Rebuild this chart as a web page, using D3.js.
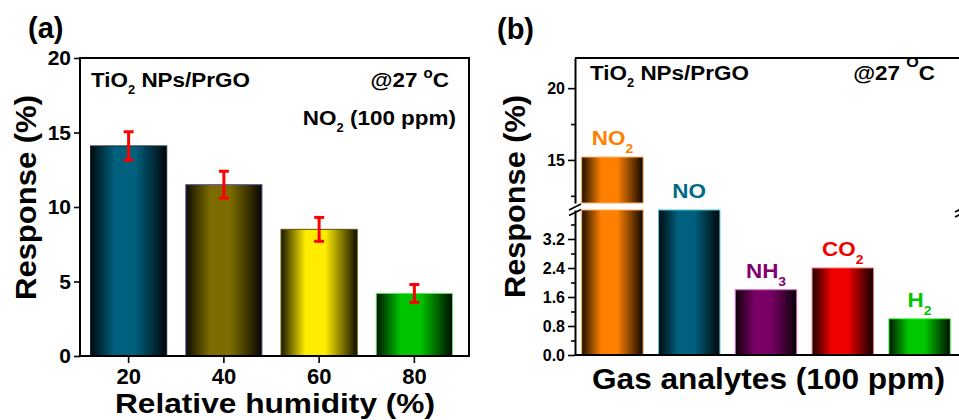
<!DOCTYPE html>
<html>
<head>
<meta charset="utf-8">
<script src="https://cdn.jsdelivr.net/npm/d3@7"></script>
<style>
  body { margin: 0; background: #fff; }
  text { font-family: "Liberation Sans", Arial, sans-serif; font-weight: bold; }
</style>
</head>
<body>
<svg id="chart" width="959" height="420"></svg>
<script>
// ---- panel (a): response vs relative humidity ----
const humidityLevels = ["20", "40", "60", "80"];
const humidityResponse = [14.1, 11.5, 8.5, 4.2];
const humidityError = [0.95, 0.9, 0.8, 0.6];
const humidityYTicks = [0, 5, 10, 15, 20];

// ---- panel (b): response to different gases (broken axis) ----
const gases = ["NO2", "NO", "NH3", "CO2", "H2"];
const gasLabels = [
  [{ t: "NO" }, { t: "2", sub: true }],
  [{ t: "NO" }],
  [{ t: "NH" }, { t: "3", sub: true }],
  [{ t: "CO" }, { t: "2", sub: true }],
  [{ t: "H" }, { t: "2", sub: true }]
];
const gasResponse = [15.2, 4.0, 1.8, 2.4, 1.0];
const lowTicks = [0, 0.8, 1.6, 2.4, 3.2];
const lowMinorTicks = [0.4, 1.2, 2.0, 2.8, 3.6];
const highTicks = [15, 20];
const highMinorTicks = [12.5, 17.5];

// colours
const humidityColors = ["#00617f", "#7d6c00", "#ffec00", "#00c400"];
const humidityEdges = ["#1a2a30", "#5555aa", "#5a5200", "#66dd66"];
const gasColors = ["#ff8000", "#00607e", "#7a0066", "#f00000", "#00c800"];
const gasEdges = ["#ffa850", "#40c8e0", "#d070d0", "#ff7070", "#50ff50"];
const gasTextColors = ["#ff8000", "#006a84", "#800070", "#f00000", "#00c800"];

const svg = d3.select("#chart");
const defs = svg.append("defs");
const FONT = '"Liberation Sans", Arial, sans-serif';
const SX = 1.07; // horizontal stretch of annotation text

function barGradient(id, color) {
  const g = defs.append("linearGradient").attr("id", id)
    .attr("x1", 0).attr("x2", 1).attr("y1", 0).attr("y2", 0);
  const mix = k => d3.interpolateRgb("#000000", color)(k);
  [[0, mix(0.1)], [0.12, mix(0.45)], [0.32, mix(1)], [0.58, mix(1)], [0.85, mix(0.4)], [1, mix(0.06)]]
    .forEach(([o, c]) => g.append("stop").attr("offset", o).attr("stop-color", c));
}

// text with sub/superscript parts
function richText(parent, x, y, parts, o) {
  const g = parent.append("g").attr("transform", `translate(${x},${y}) scale(${o.sx || 1},1)`);
  const t = g.append("text").attr("x", 0).attr("y", 0)
    .attr("font-size", o.size).attr("fill", o.fill || "#000")
    .attr("text-anchor", o.anchor || "start");
  let shift = 0;
  parts.forEach(p => {
    const s = p.sub ? (o.subDy || 7) : p.sup ? (o.supDy || -9) : 0;
    const ts = t.append("tspan").text(p.t).attr("dy", s - shift);
    if (p.sub || p.sup) ts.attr("font-size", p.size || o.subSize || 12);
    shift = s;
  });
  return t;
}

function styleAxis(g, size) {
  g.attr("font-family", FONT).attr("font-size", size).attr("font-weight", "bold");
  g.selectAll("text").attr("fill", "#000");
  g.selectAll(".tick line").attr("stroke", "#000").attr("stroke-width", 1.6);
}

// ================= panel (a) =================
const A = { left: 80, right: 469, top: 58, bottom: 356 };
const gA = svg.append("g");
const xA = d3.scaleBand().domain(humidityLevels).range([81, 462]).paddingInner(0.2).paddingOuter(0.1);
const yA = d3.scaleLinear().domain([0, 20]).range([A.bottom, A.top]);

humidityColors.forEach((c, i) => barGradient(`gradA${i}`, c));

gA.selectAll("rect.bar").data(humidityResponse).join("rect")
  .attr("class", "bar")
  .attr("x", (d, i) => xA(humidityLevels[i]))
  .attr("y", d => yA(d))
  .attr("width", xA.bandwidth())
  .attr("height", d => A.bottom - yA(d))
  .attr("fill", (d, i) => `url(#gradA${i})`)
  .attr("stroke", (d, i) => humidityEdges[i])
  .attr("stroke-width", 1);

// error bars
const errG = gA.append("g").attr("stroke", "#ff0000").attr("stroke-width", 3);
humidityResponse.forEach((v, i) => {
  const cx = xA(humidityLevels[i]) + xA.bandwidth() / 2;
  const y1 = yA(v + humidityError[i]), y2 = yA(v - humidityError[i]);
  errG.append("line").attr("x1", cx).attr("x2", cx).attr("y1", y1).attr("y2", y2);
  errG.append("line").attr("x1", cx - 5).attr("x2", cx + 5).attr("y1", y1).attr("y2", y1);
  errG.append("line").attr("x1", cx - 5).attr("x2", cx + 5).attr("y1", y2).attr("y2", y2);
});

gA.append("rect").attr("x", A.left).attr("y", A.top)
  .attr("width", A.right - A.left).attr("height", A.bottom - A.top)
  .attr("fill", "none").attr("stroke", "#000").attr("stroke-width", 2);

gA.append("g").attr("transform", `translate(${A.left},0)`)
  .call(d3.axisLeft(yA).tickValues(humidityYTicks).tickSize(6).tickPadding(3))
  .call(g => g.select(".domain").remove())
  .call(g => styleAxis(g, 21));

gA.append("g").attr("transform", `translate(0,${A.bottom})`)
  .call(d3.axisBottom(xA).tickSize(7).tickPadding(5))
  .call(g => g.select(".domain").remove())
  .call(g => styleAxis(g, 22));

gA.append("text").attr("x", 28).attr("y", 38).attr("font-size", 29).text("(a)");

richText(gA, 91, 87, [{ t: "TiO" }, { t: "2", sub: true }, { t: " NPs/PrGO" }],
  { size: 21, sx: SX, subDy: 7, subSize: 12 });
richText(gA, 449, 87, [{ t: "@27 " }, { t: "o", sup: true, size: 14 }, { t: "C" }],
  { size: 21, sx: SX, anchor: "end", supDy: -9 });
richText(gA, 456, 125, [{ t: "NO" }, { t: "2", sub: true }, { t: " (100 ppm)" }],
  { size: 21, sx: SX, anchor: "end", subDy: 7, subSize: 12 });

gA.append("text").attr("transform", "translate(36,197.5) rotate(-90)")
  .attr("text-anchor", "middle").attr("font-size", 30)
  .attr("textLength", 205).attr("lengthAdjust", "spacingAndGlyphs")
  .text("Response (%)");

gA.append("text").attr("x", 275).attr("y", 413)
  .attr("text-anchor", "middle").attr("font-size", 28)
  .attr("textLength", 320).attr("lengthAdjust", "spacingAndGlyphs")
  .text("Relative humidity (%)");

// ================= panel (b) =================
const B = { left: 575, right: 961, top: 58, bottom: 355 };
const gB = svg.append("g");
const xB = d3.scaleBand().domain(gases).range([574, 958]).paddingInner(0.2).paddingOuter(0.1);
const yLow = d3.scaleLinear().domain([0, 4]).range([355, 210]);
const yHigh = d3.scaleLinear().domain([12, 22.1]).range([203, 58]);
const lowMax = yLow.domain()[1], highMin = yHigh.domain()[0];

gasColors.forEach((c, i) => barGradient(`gradB${i}`, c));

gasResponse.forEach((v, i) => {
  const x = xB(gases[i]), w = xB.bandwidth();
  const yTopLow = yLow(Math.min(v, lowMax));
  gB.append("rect").attr("x", x).attr("y", yTopLow).attr("width", w)
    .attr("height", B.bottom - yTopLow)
    .attr("fill", `url(#gradB${i})`).attr("stroke", gasEdges[i]).attr("stroke-width", 1);
  if (v > highMin) {
    gB.append("rect").attr("x", x).attr("y", yHigh(v)).attr("width", w)
      .attr("height", yHigh(highMin) - yHigh(v))
      .attr("fill", `url(#gradB${i})`).attr("stroke", gasEdges[i]).attr("stroke-width", 1);
  }
  const top = v > highMin ? yHigh(v) : yTopLow;
  richText(gB, x + w / 2, top - 12, gasLabels[i],
    { size: 21, sx: SX, anchor: "middle", fill: gasTextColors[i], subDy: 8, subSize: 13 });
});

// frame lines
const frame = gB.append("g").attr("stroke", "#000").attr("stroke-width", 2);
frame.append("line").attr("x1", B.left).attr("x2", B.right + 2).attr("y1", B.top).attr("y2", B.top);
frame.append("line").attr("x1", B.left).attr("x2", B.right + 2).attr("y1", B.bottom).attr("y2", B.bottom);
frame.append("line").attr("x1", B.right).attr("x2", B.right).attr("y1", B.top).attr("y2", yHigh(highMin));
frame.append("line").attr("x1", B.right).attr("x2", B.right).attr("y1", yLow(lowMax)).attr("y2", B.bottom);

// broken left axis
function leftAxis(scale, major, minor, fmt) {
  gB.append("g").attr("transform", `translate(${B.left},0)`)
    .call(d3.axisLeft(scale).tickValues(minor).tickSize(4).tickFormat(""))
    .call(g => g.select(".domain").remove())
    .call(g => styleAxis(g, 16));
  gB.append("g").attr("transform", `translate(${B.left},0)`)
    .call(d3.axisLeft(scale).tickValues(major).tickSize(7).tickSizeOuter(0).tickPadding(3).tickFormat(fmt))
    .call(g => g.select(".domain").attr("stroke", "#000").attr("stroke-width", 2))
    .call(g => styleAxis(g, 16));
}
leftAxis(yLow, lowTicks, lowMinorTicks, d3.format(".1f"));
leftAxis(yHigh, highTicks, highMinorTicks, d3.format("d"));

// axis-break marks
const brk = gB.append("g").attr("stroke", "#000").attr("stroke-width", 1.6);
[[B.left, 207], [B.left, 212.5], [B.right, 209], [B.right, 214]].forEach(([x, y]) => {
  brk.append("line").attr("x1", x - 6).attr("x2", x + 6).attr("y1", y + 3).attr("y2", y - 3);
});

gB.append("text").attr("x", 497).attr("y", 39).attr("font-size", 29).text("(b)");

richText(gB, 590, 80, [{ t: "TiO" }, { t: "2", sub: true }, { t: " NPs/PrGO" }],
  { size: 21, sx: SX, subDy: 7, subSize: 12 });
richText(gB, 935, 80, [{ t: "@27 " }, { t: "O", sup: true, size: 15 }, { t: "C" }],
  { size: 21, sx: SX, anchor: "end", supDy: -13 });

gB.append("text").attr("transform", "translate(525,196.5) rotate(-90)")
  .attr("text-anchor", "middle").attr("font-size", 30)
  .attr("textLength", 203).attr("lengthAdjust", "spacingAndGlyphs")
  .text("Response (%)");

gB.append("text").attr("x", 768.5).attr("y", 389)
  .attr("text-anchor", "middle").attr("font-size", 29)
  .attr("textLength", 353).attr("lengthAdjust", "spacingAndGlyphs")
  .text("Gas analytes (100 ppm)");
</script>
</body>
</html>
